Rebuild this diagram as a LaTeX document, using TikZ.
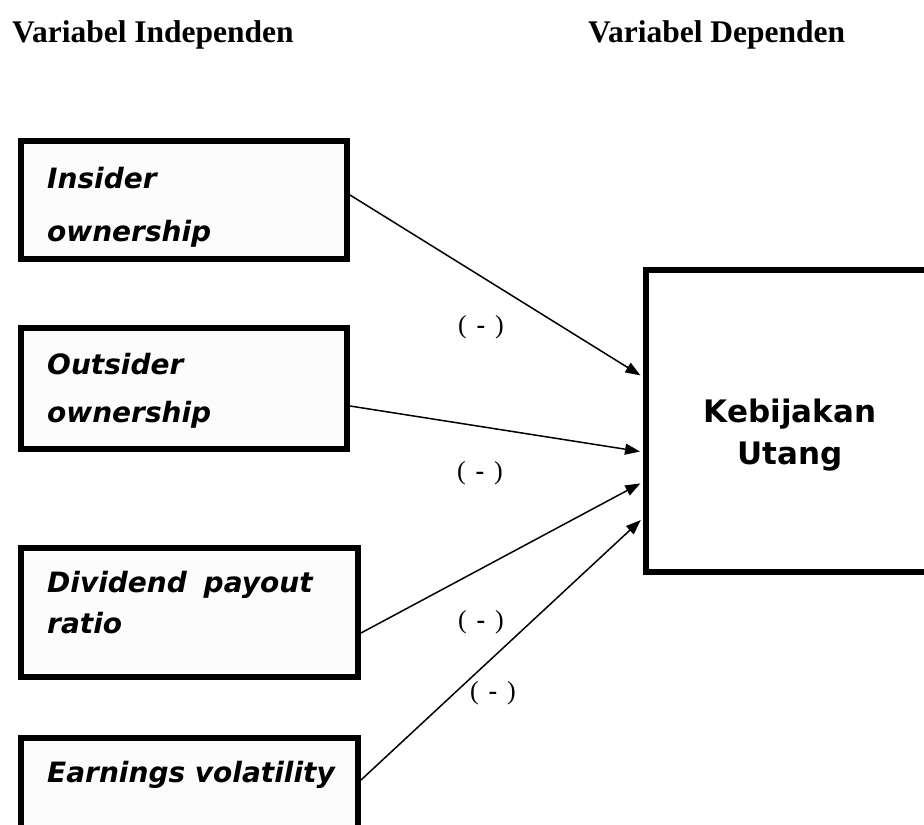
\documentclass[tikz,border=0pt]{standalone}
\usepackage{fontspec}
\setmainfont{Liberation Serif}
\newfontfamily\blackfont{DejaVu Sans}
\usetikzlibrary{arrows.meta}
\begin{document}
\begin{tikzpicture}[>={Triangle[length=15bp,width=11bp]},line join=miter,
  varbox/.style={draw,line width=6bp,inner sep=0pt,fill=black!1},
  vartext/.style={anchor=base west,inner sep=0pt,font=\blackfont\bfseries\itshape\fontsize{28bp}{34bp}\selectfont},
  deptext/.style={anchor=base,inner sep=0pt,font=\blackfont\bfseries\fontsize{31bp}{38bp}\selectfont},
  headtext/.style={anchor=base west,inner sep=0pt,font=\bfseries\fontsize{31.5bp}{38bp}\selectfont},
  signtext/.style={inner sep=0pt,font=\fontsize{26bp}{30bp}\selectfont},
  link/.style={black,line width=1.5bp,->,shorten >=3bp}]
%%
\useasboundingbox (0bp,0bp) rectangle (924bp,825bp);
\node (head_ind) at (12bp,782bp) [headtext] {Variabel Independen};
  \node (head_dep) at (588bp,782bp) [headtext] {Variabel Dependen};
  \node (node_ins) at (184bp,625bp) [varbox,minimum width=326bp,minimum height=118bp] {};
  \node (node_out) at (184bp,436.5bp) [varbox,minimum width=326bp,minimum height=121bp] {};
  \node (node_div) at (189.5bp,212.5bp) [varbox,minimum width=337bp,minimum height=129bp] {};
  \node (node_ear) at (189.5bp,22bp) [varbox,minimum width=337bp,minimum height=130bp] {};
  \node (node_keb) at (790bp,404bp) [varbox,fill=white,minimum width=288bp,minimum height=302bp] {};
  \node (txt_ins_a) at (47bp,636bp) [vartext] {Insider};
  \node (txt_ins_b) at (47bp,583bp) [vartext] {ownership};
  \node (txt_out_a) at (47bp,450bp) [vartext] {Outsider};
  \node (txt_out_b) at (47bp,402bp) [vartext] {ownership};
  \node (txt_div_a) at (47bp,232bp) [vartext] {Dividend\hspace{0.6em}payout};
  \node (txt_div_b) at (47bp,191bp) [vartext] {ratio};
  \node (txt_ear) at (47bp,42bp) [vartext] {Earnings volatility};
  \node (txt_keb_a) at (790bp,402bp) [deptext] {Kebijakan};
  \node (txt_keb_b) at (790bp,360bp) [deptext] {Utang};
  \draw [link] ([yshift=5bp]node_ins.east) -- ([yshift=44bp]node_keb.west);
  \draw [link] ([yshift=-17.5bp]node_out.east) -- ([yshift=-31bp]node_keb.west);
  \draw [link] ([yshift=-20.5bp]node_div.east) -- ([yshift=-61bp]node_keb.west);
  \draw [link] ([yshift=23bp]node_ear.east) -- ([yshift=-97bp]node_keb.west);
  \node (sign_ins) at (481bp,498bp) [signtext] {(\hspace{0.38em}\textbf{-}\hspace{0.38em})};
  \node (sign_out) at (480bp,352bp) [signtext] {(\hspace{0.38em}\textbf{-}\hspace{0.38em})};
  \node (sign_div) at (481bp,203bp) [signtext] {(\hspace{0.38em}\textbf{-}\hspace{0.38em})};
  \node (sign_ear) at (493bp,132bp) [signtext] {(\hspace{0.38em}\textbf{-}\hspace{0.38em})};
%
\end{tikzpicture}
\end{document}
